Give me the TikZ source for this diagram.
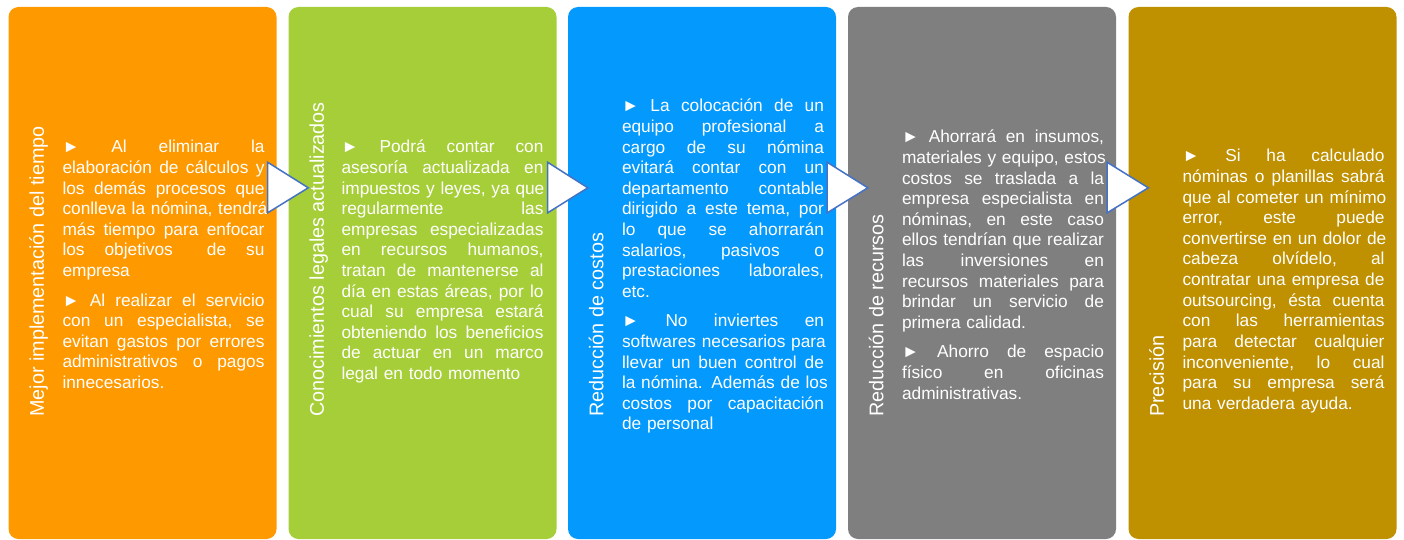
\documentclass[tikz,border=0pt]{standalone}
\usepackage{fontspec}
\setmainfont{Liberation Sans}
\usetikzlibrary{calc}
\definecolor{cOrange}{RGB}{255,153,0}
\definecolor{cGreen}{RGB}{166,206,57}
\definecolor{cBlue}{RGB}{3,153,253}
\definecolor{cGray}{RGB}{127,127,127}
\definecolor{cGold}{RGB}{191,144,0}
\definecolor{cArrow}{RGB}{68,114,196}
\newcommand\jl[1]{\hbox to\hsize{\rule{0pt}{14pt}#1}}
\newcommand\lastl[1]{\hbox to\hsize{\rule{0pt}{14pt}#1\hfil}}
\newcommand\pgap{\vskip 8.9pt}
\begin{document}
\begin{tikzpicture}[x=1pt,y=-1pt,
  panel/.style={rectangle, rounded corners=10pt, inner sep=0pt, minimum width=268pt, minimum height=532pt, draw=none},
  vlabel/.style={rotate=90, anchor=base west, inner sep=0pt, text=white, font=\fontsize{19.8}{24}\selectfont},
  body/.style={anchor=north west, inner sep=0pt, text width=202pt, text=white, font=\fontsize{17.3}{20.6}\selectfont},
  chev/.style={draw=cArrow, fill=white, line width=1.5pt, line join=miter}]
\useasboundingbox (0,0) rectangle (1404,540);
\fill[white] (0,0) rectangle (1404,540);
% panels
\node[panel, fill=cOrange] (b1) at (142.5,273) {};
\node[panel, fill=cGreen]  (b2) at (422.5,273) {};
\node[panel, fill=cBlue]   (b3) at (702,273) {};
\node[panel, fill=cGray]   (b4) at (982,273) {};
\node[panel, fill=cGold]   (b5) at (1262.5,273) {};
% vertical titles
\node[vlabel] (l1) at ($(b1.west)+(35.5,144)$) {Mejor implementación del tiempo};
\node[vlabel] (l2) at ($(b2.west)+(35.5,144)$) {Conocimientos legales actualizados};
\node[vlabel] (l3) at ($(b3.west)+(35.5,144)$) {Reducción de costos};
\node[vlabel] (l4) at ($(b4.west)+(35.5,144)$) {Reducción de recursos};
\node[vlabel] (l5) at ($(b5.west)+(35.5,144)$) {Precisión};
% body texts
\node[body] (t1) at ($(b1.north west)+(54,132)$) {%
\jl{► \hfil Al \hfil eliminar \hfil la}
\jl{elaboración \hfil de \hfil cálculos \hfil y}
\jl{los \hfil demás \hfil procesos \hfil que}
\jl{conlleva \hfil la \hfil nómina, \hfil tendrá}
\jl{más \hfil tiempo \hfil para \hfil enfocar}
\jl{los \hfil objetivos \hfil\hfil de \hfil su}
\lastl{empresa}
\pgap
\jl{► \hfil Al \hfil realizar \hfil el \hfil servicio}
\jl{con \hfil un \hfil especialista, \hfil se}
\jl{evitan \hfil gastos \hfil por \hfil errores}
\jl{administrativos \hfil o \hfil pagos}
\lastl{innecesarios.}};
\node[body] (t2) at ($(b2.north west)+(53,132)$) {%
\jl{► \hfil Podrá \hfil contar \hfil con}
\jl{asesoría \hfil actualizada \hfil en}
\jl{impuestos \hfil y \hfil leyes, \hfil ya \hfil que}
\jl{regularmente \hfil las}
\jl{empresas \hfil especializadas}
\jl{en \hfil recursos \hfil humanos,}
\jl{tratan \hfil de \hfil mantenerse \hfil al}
\jl{día \hfil en \hfil estas \hfil áreas, \hfil por \hfil lo}
\jl{cual \hfil su \hfil empresa \hfil estará}
\jl{obteniendo \hfil los \hfil beneficios}
\jl{de \hfil actuar \hfil en \hfil un \hfil marco}
\lastl{legal en todo momento}};
\node[body] (t3) at ($(b3.north west)+(54,91)$) {%
\jl{► \hfil La \hfil colocación \hfil de \hfil un}
\jl{equipo \hfil profesional \hfil a}
\jl{cargo \hfil de \hfil su \hfil nómina}
\jl{evitará \hfil contar \hfil con \hfil un}
\jl{departamento \hfil contable}
\jl{dirigido \hfil a \hfil este \hfil tema, \hfil por}
\jl{lo \hfil que \hfil se \hfil ahorrarán}
\jl{salarios, \hfil pasivos \hfil o}
\jl{prestaciones \hfil laborales,}
\lastl{etc.}
\pgap
\jl{► \hfil No \hfil inviertes \hfil en}
\jl{softwares \hfil necesarios \hfil para}
\jl{llevar \hfil un \hfil buen \hfil control \hfil de}
\jl{la \hfil nómina. \hfil Además \hfil de \hfil los}
\jl{costos \hfil por \hfil capacitación}
\lastl{de personal}};
\node[body] (t4) at ($(b4.north west)+(54,122)$) {%
\jl{► \hfil Ahorrará \hfil en \hfil insumos,}
\jl{materiales \hfil y \hfil equipo, \hfil estos}
\jl{costos \hfil se \hfil traslada \hfil a \hfil la}
\jl{empresa \hfil especialista \hfil en}
\jl{nóminas, \hfil en \hfil este \hfil caso}
\jl{ellos \hfil tendrían \hfil que \hfil realizar}
\jl{las \hfil inversiones \hfil en}
\jl{recursos \hfil materiales \hfil para}
\jl{brindar \hfil un \hfil servicio \hfil de}
\lastl{primera calidad.}
\pgap
\jl{► \hfil Ahorro \hfil de \hfil espacio}
\jl{físico \hfil en \hfil oficinas}
\lastl{administrativas.}};
\node[body] (t5) at ($(b5.north west)+(54,141)$) {%
\jl{► \hfil Si \hfil ha \hfil calculado}
\jl{nóminas \hfil o \hfil planillas \hfil sabrá}
\jl{que \hfil al \hfil cometer \hfil un \hfil mínimo}
\jl{error, \hfil este \hfil puede}
\jl{convertirse \hfil en \hfil un \hfil dolor \hfil de}
\jl{cabeza \hfil olvídelo, \hfil al}
\jl{contratar \hfil una \hfil empresa \hfil de}
\jl{outsourcing, \hfil ésta \hfil cuenta}
\jl{con \hfil las \hfil herramientas}
\jl{para \hfil detectar \hfil cualquier}
\jl{inconveniente, \hfil lo \hfil cual}
\jl{para \hfil su \hfil empresa \hfil será}
\lastl{una verdadera ayuda.}};
% chevron arrows between panels
\foreach \a/\b in {b1/b2, b2/b3, b3/b4, b4/b5}{
  \coordinate (p\a) at ($(\a.north east)+(-9,155.5)$);
  \coordinate (q\a) at ($(\a.north east)+(-9,206)$);
  \coordinate (r\a) at ($(\b.north west)+(20,181)$);
  \draw[chev] (p\a) -- (r\a) -- (q\a) -- cycle;
}
\end{tikzpicture}
\end{document}
